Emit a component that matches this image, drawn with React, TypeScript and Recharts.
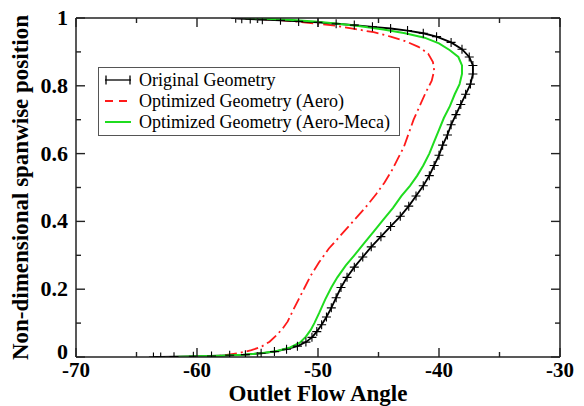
import React from 'react';
import { LineChart, Line, XAxis, YAxis, Legend } from 'recharts';

// Outlet flow angle (deg) vs. non-dimensional spanwise position, per geometry
const originalAngle = [
  -63.6, -63.0, -61.9, -60.3, -58.8, -57.3, -56.0, -54.7, -53.6, -52.6, -51.7, -51.0, -50.5, -50.1,
  -49.7, -49.3, -48.9, -48.5, -48.1, -47.6, -47.0, -46.3, -45.6, -44.8, -44.0, -43.2, -42.5, -41.9,
  -41.3, -40.8, -40.4, -40.0, -39.7, -39.3, -39.0, -38.6, -38.2, -37.8, -37.4, -37.2, -37.2, -37.5,
  -38.1, -39.0, -40.2, -41.3, -42.6, -44.0, -45.5, -47.0, -48.5, -50.0, -51.6, -53.1, -54.6, -55.6,
  -56.3, -56.8,
];
const originalSpan = [
  0.0, 0.0, 0.001, 0.002, 0.003, 0.005, 0.007, 0.011, 0.016, 0.023, 0.032, 0.044, 0.058, 0.075,
  0.095, 0.118, 0.145, 0.175, 0.205, 0.235, 0.265, 0.295, 0.325, 0.355, 0.385, 0.415, 0.445, 0.475,
  0.505, 0.535, 0.565, 0.595, 0.625, 0.655, 0.685, 0.715, 0.745, 0.775, 0.805, 0.835, 0.86, 0.885,
  0.908, 0.928, 0.945, 0.955, 0.963, 0.969, 0.974, 0.979, 0.983, 0.987, 0.99, 0.993, 0.995, 0.997,
  0.998, 0.999,
];

const aeroAngle = [
  -59.5, -58.0, -56.5, -55.5, -54.7, -54.0, -53.4, -52.9, -52.5, -52.1, -51.6, -51.1, -50.6, -49.9,
  -49.1, -48.1, -47.1, -46.1, -45.2, -44.5, -43.9, -43.4, -42.9, -42.5, -42.1, -41.6, -41.1, -40.6,
  -40.4, -40.5, -40.9, -41.7, -42.8, -44.0, -45.4, -47.0, -48.5, -50.0, -51.6, -53.2, -54.7, -56.0,
];
const aeroSpan = [
  0.0, 0.004, 0.012, 0.02, 0.03, 0.045, 0.065, 0.085, 0.105, 0.135, 0.17, 0.205, 0.24, 0.28,
  0.32, 0.36, 0.4, 0.44, 0.48, 0.515, 0.55, 0.585, 0.62, 0.66, 0.7, 0.74, 0.78, 0.815,
  0.845, 0.87, 0.895, 0.915, 0.932, 0.945, 0.958, 0.968, 0.977, 0.983, 0.989, 0.994, 0.997, 0.999,
];

const aeroMecaAngle = [
  -62.0, -60.0, -58.0, -56.2, -54.7, -53.4, -52.3, -51.5, -51.0, -50.6, -50.3, -49.9, -49.4, -48.9,
  -48.4, -47.7, -47.0, -46.2, -45.4, -44.6, -43.8, -43.1, -42.4, -41.8, -41.3, -40.8, -40.4, -40.0,
  -39.6, -39.1, -38.7, -38.3, -38.1, -38.1, -38.4, -39.1, -40.0, -41.2, -42.8, -44.6, -46.5, -48.5,
  -50.3, -52.1, -53.8, -55.2, -56.2,
];
const aeroMecaSpan = [
  0.0, 0.002, 0.004, 0.007, 0.011, 0.018, 0.028, 0.042, 0.06, 0.08, 0.1, 0.13, 0.17, 0.205,
  0.235, 0.27, 0.3, 0.335, 0.37, 0.405, 0.44, 0.475, 0.505, 0.535, 0.565, 0.6, 0.635, 0.67,
  0.705, 0.74, 0.775, 0.805, 0.835, 0.86, 0.885, 0.905, 0.925, 0.942, 0.955, 0.966, 0.976, 0.984,
  0.99, 0.994, 0.997, 0.999, 1.0,
];

const xTicks = [-70, -65, -60, -55, -50, -45, -40, -35, -30];
const yTicks = [0, 0.1, 0.2, 0.3, 0.4, 0.5, 0.6, 0.7, 0.8, 0.9, 1];
const yTickLabels = ['0', '', '0.2', '', '0.4', '', '0.6', '', '0.8', '', '1'];

const seriesNames = [
  'Original Geometry',
  'Optimized Geometry (Aero)',
  'Optimized Geometry (Aero-Meca)',
];

const zip = (angle: number[], span: number[]) =>
  angle.map((a, i) => ({ angle: a, span: span[i] }));

const originalData = zip(originalAngle, originalSpan);
const aeroData = zip(aeroAngle, aeroSpan);
const aeroMecaData = zip(aeroMecaAngle, aeroMecaSpan);

// chart box and plot-area layout
const WIDTH = 584;
const HEIGHT = 406;
const MARGIN = { top: 18, right: 24, bottom: 0, left: 0 };
const Y_AXIS_W = 76;
const X_AXIS_H = 49;
const PLOT_X = MARGIN.left + Y_AXIS_W;
const PLOT_Y = MARGIN.top;
const PLOT_W = WIDTH - MARGIN.left - MARGIN.right - Y_AXIS_W;
const PLOT_H = HEIGHT - MARGIN.top - MARGIN.bottom - X_AXIS_H;
const X_DOMAIN = [-70, -30];
const Y_DOMAIN = [0, 1];

const SERIF = '"Liberation Serif", "Times New Roman", serif';
const FRAME = '#222';
const RED = '#ff1a1a';
const GREEN = '#1fdc1f';

const isMajorX = (v: number) => Math.round(v) % 10 === 0;
const isMajorY = (v: number) => Math.round(v * 10) % 2 === 0;

const BottomTick = (props: any) => {
  const { x, y, payload } = props;
  const major = isMajorX(payload.value);
  return (
    <g>
      <line x1={x} x2={x} y1={y} y2={y - (major ? 9 : 5)} stroke={FRAME} strokeWidth={1.4} />
      {major && (
        <text x={x} y={y + 20} textAnchor="middle" fontFamily={SERIF} fontWeight="bold" fontSize={21} fill="#000">
          {payload.value}
        </text>
      )}
    </g>
  );
};

const LeftTick = (props: any) => {
  const { x, y, payload, index } = props;
  const major = isMajorY(payload.value);
  return (
    <g>
      <line x1={x} x2={x + (major ? 9 : 5)} y1={y} y2={y} stroke={FRAME} strokeWidth={1.4} />
      {major && (
        <text x={x - 8} y={y + (index === 0 ? 2 : 7)} textAnchor="end" fontFamily={SERIF} fontWeight="bold" fontSize={22} fill="#000">
          {yTickLabels[index] ?? payload.value}
        </text>
      )}
    </g>
  );
};

// top and right edges of the plot frame, with inward ticks at the same tick values
const FrameOverlay = () => {
  const sx = (v: number) => PLOT_X + ((v - X_DOMAIN[0]) / (X_DOMAIN[1] - X_DOMAIN[0])) * PLOT_W;
  const sy = (v: number) => PLOT_Y + PLOT_H - ((v - Y_DOMAIN[0]) / (Y_DOMAIN[1] - Y_DOMAIN[0])) * PLOT_H;
  const right = PLOT_X + PLOT_W;
  return (
    <svg
      width={WIDTH}
      height={HEIGHT}
      style={{ position: 'absolute', left: 0, top: 0, pointerEvents: 'none', zIndex: 2 }}
    >
      <g stroke={FRAME} fill="none">
        <line x1={PLOT_X} x2={right} y1={PLOT_Y} y2={PLOT_Y} strokeWidth={1.5} />
        <line x1={right} x2={right} y1={PLOT_Y} y2={PLOT_Y + PLOT_H} strokeWidth={1.5} />
        {xTicks.map((v) => (
          <line key={`t${v}`} x1={sx(v)} x2={sx(v)} y1={PLOT_Y} y2={PLOT_Y + (isMajorX(v) ? 9 : 5)} strokeWidth={1.4} />
        ))}
        {yTicks.map((v) => (
          <line key={`r${v}`} x1={right} x2={right - (isMajorY(v) ? 9 : 5)} y1={sy(v)} y2={sy(v)} strokeWidth={1.4} />
        ))}
      </g>
    </svg>
  );
};

const Cross = (props: any) => {
  const { cx, cy, index } = props;
  if (cx == null || cy == null) return <g key={`c-${index}`} />;
  return (
    <path
      key={`c-${index}`}
      d={`M${cx - 4.5},${cy}H${cx + 4.5}M${cx},${cy - 4.5}V${cy + 4.5}`}
      stroke="#000"
      strokeWidth={1.1}
      fill="none"
    />
  );
};

const LegendBox = () => (
  <div
    style={{
      width: 302,
      height: 69,
      border: '1.5px solid #555',
      background: '#fff',
      boxSizing: 'border-box',
    }}
  >
    <svg width={300} height={66} style={{ display: 'block' }}>
      {seriesNames.map((name, i) => {
        const cy = 12 + i * 21;
        return (
          <g key={name}>
            {i === 0 && (
              <g stroke="#000" strokeWidth={1.3}>
                <line x1={6} x2={32} y1={cy} y2={cy} />
                <line x1={7} x2={7} y1={cy - 4.5} y2={cy + 4.5} />
                <line x1={31} x2={31} y1={cy - 4.5} y2={cy + 4.5} />
              </g>
            )}
            {i === 1 && (
              <line x1={6} x2={32} y1={cy} y2={cy} stroke={RED} strokeWidth={1.8} strokeDasharray="8 6" />
            )}
            {i === 2 && <line x1={6} x2={32} y1={cy} y2={cy} stroke={GREEN} strokeWidth={2} />}
            <text x={40} y={cy + 6} fontFamily={SERIF} fontSize={18} fill="#000">
              {name}
            </text>
          </g>
        );
      })}
    </svg>
  </div>
);

export default function App() {
  return (
    <div style={{ position: 'absolute', left: 0, top: 0, width: WIDTH, height: HEIGHT, background: '#fff' }}>
      <LineChart width={WIDTH} height={HEIGHT} margin={MARGIN}>
        <XAxis
          dataKey="angle"
          type="number"
          domain={X_DOMAIN}
          allowDataOverflow
          ticks={xTicks}
          interval={0}
          height={X_AXIS_H}
          tickSize={0}
          tickMargin={0}
          tickLine={false}
          axisLine={{ stroke: FRAME, strokeWidth: 1.5 }}
          tick={<BottomTick />}
          label={{
            value: 'Outlet Flow Angle',
            position: 'insideBottom',
            offset: 5,
            style: { fontFamily: SERIF, fontWeight: 'bold', fontSize: 23, fill: '#000' },
          }}
        />
        <YAxis
          type="number"
          domain={Y_DOMAIN}
          allowDataOverflow
          ticks={yTicks}
          interval={0}
          width={Y_AXIS_W}
          tickSize={0}
          tickMargin={0}
          tickLine={false}
          axisLine={{ stroke: FRAME, strokeWidth: 1.5 }}
          tick={<LeftTick />}
          label={{
            value: 'Non-dimensional spanwise position',
            angle: -90,
            position: 'insideLeft',
            offset: 0,
            dx: 20,
            style: { textAnchor: 'middle', fontFamily: SERIF, fontWeight: 'bold', fontSize: 23, fill: '#000' },
          }}
        />
        <Legend
          layout="horizontal"
          verticalAlign="middle"
          align="center"
          content={<LegendBox />}
          wrapperStyle={{ left: 98, top: 67, width: 302, height: 69 }}
        />
        <Line
          data={aeroData}
          dataKey="span"
          name={seriesNames[1]}
          stroke={RED}
          strokeWidth={1.8}
          strokeDasharray="12 4 2 4"
          dot={false}
          activeDot={false}
          isAnimationActive={false}
        />
        <Line
          data={originalData}
          dataKey="span"
          name={seriesNames[0]}
          stroke="#000"
          strokeWidth={1.8}
          dot={<Cross />}
          activeDot={false}
          isAnimationActive={false}
        />
        <Line
          data={aeroMecaData}
          dataKey="span"
          name={seriesNames[2]}
          stroke={GREEN}
          strokeWidth={2}
          dot={false}
          activeDot={false}
          isAnimationActive={false}
        />
      </LineChart>
      <FrameOverlay />
    </div>
  );
}
